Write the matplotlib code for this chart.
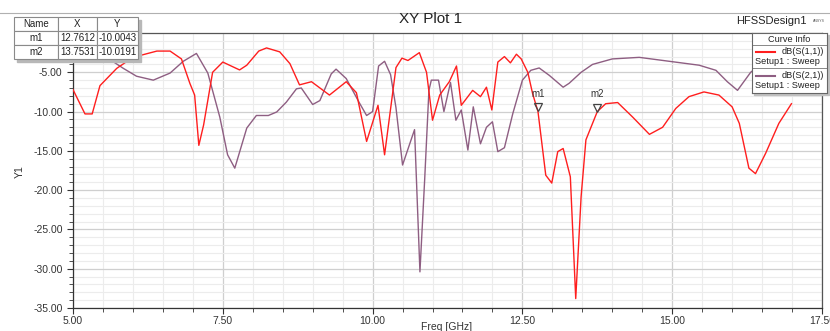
import matplotlib
matplotlib.use('Agg')
import matplotlib.pyplot as plt
from matplotlib.patches import Rectangle
from matplotlib.transforms import offset_copy

plt.rcParams['font.family'] = ['Liberation Sans', 'DejaVu Sans']

# dB(S(1,1))
s11_freq = [5.00, 5.20, 5.32, 5.45, 5.73, 6.00, 6.40, 6.62, 6.81, 6.95, 7.03, 7.10,
            7.18, 7.33, 7.50, 7.78, 7.90, 8.10, 8.23, 8.45, 8.62, 8.78, 8.98, 9.28,
            9.56, 9.73, 9.90, 10.09, 10.20, 10.39, 10.49, 10.59, 10.78, 10.90, 11.00,
            11.12, 11.28, 11.40, 11.48, 11.67, 11.80, 11.90, 11.99, 12.09, 12.20,
            12.30, 12.40, 12.48, 12.59, 12.67, 12.76, 12.89, 12.99, 13.09, 13.18,
            13.30, 13.39, 13.48, 13.56, 13.75, 13.89, 14.09, 14.34, 14.62, 14.84,
            15.06, 15.28, 15.53, 15.78, 16.00, 16.12, 16.28, 16.39, 16.56, 16.78, 16.99]
s11_db = [-7.2, -10.3, -10.3, -6.7, -4.5, -3.1, -2.3, -2.3, -3.3, -6.4, -7.9, -14.3,
          -11.7, -5.0, -3.7, -4.7, -4.1, -2.3, -1.9, -2.4, -3.9, -6.6, -6.2, -7.9,
          -6.2, -7.6, -13.8, -9.2, -15.5, -4.4, -3.2, -3.5, -2.5, -5.0, -11.1,
          -7.9, -6.2, -4.2, -9.2, -7.3, -8.1, -6.9, -9.8, -3.7, -3.0,
          -3.8, -2.7, -3.3, -5.0, -7.7, -10.0, -18.1, -19.1, -15.1, -14.7,
          -18.3, -33.8, -20.8, -13.6, -10.0, -9.0, -8.85, -10.7, -12.9, -12.0,
          -9.6, -8.1, -7.5, -7.9, -9.4, -11.5, -17.2, -17.9, -15.3, -11.5, -9.0]

# dB(S(2,1))
s21_freq = [5.00, 5.30, 5.62, 5.84, 6.06, 6.34, 6.62, 6.84, 7.06, 7.25, 7.45, 7.58,
            7.70, 7.90, 8.06, 8.26, 8.40, 8.56, 8.73, 8.81, 9.00, 9.12, 9.31, 9.39,
            9.56, 9.78, 9.90, 10.00, 10.10, 10.20, 10.30, 10.39, 10.50, 10.70, 10.79,
            10.87, 10.94, 10.98, 11.10, 11.19, 11.30, 11.39, 11.48, 11.59, 11.68,
            11.80, 11.90, 12.00, 12.09, 12.20, 12.34, 12.50, 12.64, 12.78, 12.95,
            13.18, 13.28, 13.48, 13.67, 14.00, 14.45, 14.90, 15.45, 15.73, 15.92,
            16.09, 16.31, 16.50, 17.00]
s21_db = [-1.6, -2.5, -3.4, -4.5, -5.5, -6.0, -5.1, -3.6, -2.6, -5.1, -10.7, -15.5,
          -17.2, -12.1, -10.5, -10.5, -10.05, -8.8, -7.1, -7.0, -9.1, -8.6, -5.2, -4.6,
          -5.8, -8.9, -10.5, -10.0, -4.2, -3.6, -5.3, -9.5, -16.8, -12.3, -30.4,
          -18.5, -7.3, -6.0, -6.0, -10.0, -6.3, -11.1, -9.8, -14.9, -9.4,
          -14.1, -12.0, -11.3, -15.1, -14.6, -10.25, -6.0, -4.75, -4.45, -5.4,
          -6.9, -6.4, -5.0, -4.0, -3.3, -3.1, -3.55, -4.1, -4.75, -6.2,
          -7.3, -5.0, -3.8, -3.0]

marker_names = ['m1', 'm2']
marker_x = [12.7612, 13.7531]
marker_y = [-10.0043, -10.0191]

RED = '#ff1e1e'
PURPLE = '#8e5e82'
W, H = 830, 331

fig = plt.figure(figsize=(W / 100, H / 100), dpi=100)
ax = fig.add_axes([73 / W, 1 - 308 / H, (822 - 73) / W, (308 - 33) / H])

ax.plot(s11_freq, s11_db, color=RED, lw=1.0, zorder=3)
ax.plot(s21_freq, s21_db, color=PURPLE, lw=1.0, zorder=2)

# markers: hollow down-triangles sitting on the curve
tri = offset_copy(ax.transData, fig=fig, y=3, units='points')
lab = offset_copy(ax.transData, fig=fig, y=9, units='points')
for n, mx, my in zip(marker_names, marker_x, marker_y):
    ax.plot(mx, my, marker='v', ms=6, mfc='none', mec='#444444', mew=0.9,
            transform=tri, zorder=4)
    ax.text(mx, my, n, transform=lab, ha='center', va='bottom',
            fontsize=7, color='#333333', zorder=4)

ax.set_xlim(5, 17.5)
ax.set_ylim(-35, 0)
ax.set_xticks([5, 7.5, 10, 12.5, 15, 17.5])
ax.set_xticks([5 + 0.5 * i for i in range(26)], minor=True)
ax.set_yticks([-35, -30, -25, -20, -15, -10, -5])
ax.set_yticks(list(range(-35, 1)), minor=True)
ax.xaxis.set_major_formatter(matplotlib.ticker.FormatStrFormatter('%.2f'))
ax.yaxis.set_major_formatter(matplotlib.ticker.FormatStrFormatter('%.2f'))
ax.tick_params(which='both', labelsize=7.5, colors='#333333', direction='out')
ax.tick_params(which='major', length=4, width=0.8)
ax.tick_params(which='minor', length=3, width=0.6)
ax.tick_params(axis='x', pad=2)
ax.grid(which='minor', color='#ececec', lw=0.8)
ax.grid(which='major', color='#cfcfcf', lw=0.9)
ax.set_axisbelow(True)
for s in ax.spines.values():
    s.set_color('#555555')
    s.set_linewidth(0.9)
ax.spines['left'].set_color('#333333')
ax.spines['bottom'].set_color('#333333')

fig.text(20 / W, 1 - 172 / H, 'Y1', rotation=90, ha='center', va='center',
         fontsize=7.5, color='#333333')
fig.text(447 / W, 1 - 327 / H, 'Freq [GHz]', ha='center', va='center',
         fontsize=7.5, color='#333333')
fig.text(431 / W, 1 - 19 / H, 'XY Plot 1', ha='center', va='center',
         fontsize=11, color='#222222')
fig.text(771 / W, 1 - 21 / H, 'HFSSDesign1', ha='center', va='center',
         fontsize=8, color='#222222')
fig.text(819 / W, 1 - 21 / H, 'ANSYS', ha='center', va='center',
         fontsize=2.5, color='#555555')
fig.add_artist(plt.Line2D([0, 1], [1 - 13 / H, 1 - 13 / H], color='#b0b0b0',
                          lw=0.8, transform=fig.transFigure))

# marker table, top left
tx0, ty0, tx1, ty1 = 14, 17, 138, 59
fig.add_artist(Rectangle(((tx0 + 3) / W, 1 - (ty1 + 3) / H), (tx1 - tx0) / W,
                         (ty1 - ty0) / H, transform=fig.transFigure,
                         color='#b8b8b8', zorder=4))
tax = fig.add_axes([tx0 / W, 1 - ty1 / H, (tx1 - tx0) / W, (ty1 - ty0) / H], zorder=5)
tax.axis('off')
rows = [['Name', 'X', 'Y']] + [[n, '%.4f' % x, '%.4f' % y]
                               for n, x, y in zip(marker_names, marker_x, marker_y)]
tbl = tax.table(cellText=rows, bbox=[0, 0, 1, 1], cellLoc='center',
                colWidths=[44, 39, 41])
tbl.auto_set_font_size(False)
tbl.set_fontsize(7)
for (r, c), cell in tbl.get_celld().items():
    cell.set_edgecolor('#8a8a8a')
    cell.set_linewidth(0.8)
    cell.set_facecolor('white')
    cell.get_text().set_color('#222222')

# curve info box, top right
lx0, ly0, lx1, ly1 = 752, 33, 827, 93
fig.add_artist(Rectangle(((lx0 + 2) / W, 1 - (ly1 + 2) / H), (lx1 - lx0) / W,
                         (ly1 - ly0) / H, transform=fig.transFigure,
                         color='#c0c0c0', zorder=4))
lax = fig.add_axes([lx0 / W, 1 - ly1 / H, (lx1 - lx0) / W, (ly1 - ly0) / H], zorder=5)
lax.set_xlim(0, 1)
lax.set_ylim(0, 1)
lax.set_xticks([])
lax.set_yticks([])
for s in lax.spines.values():
    s.set_color('#666666')
    s.set_linewidth(0.8)
fs = 6.6
lax.text(0.5, 0.9, 'Curve Info', ha='center', va='center', fontsize=fs, color='#222222')
lax.axhline(0.8, color='#888888', lw=0.7)
lax.axhline(0.42, color='#888888', lw=0.7)
lax.plot([0.05, 0.30], [0.68, 0.68], color=RED, lw=1.5)
lax.text(0.96, 0.69, 'dB(S(1,1))', ha='right', va='center', fontsize=fs, color='#222222')
lax.text(0.04, 0.53, 'Setup1 : Sweep', ha='left', va='center', fontsize=fs, color='#222222')
lax.plot([0.05, 0.30], [0.29, 0.29], color=PURPLE, lw=1.5)
lax.text(0.96, 0.30, 'dB(S(2,1))', ha='right', va='center', fontsize=fs, color='#222222')
lax.text(0.04, 0.13, 'Setup1 : Sweep', ha='left', va='center', fontsize=fs, color='#222222')

fig.savefig('out.png', dpi=100)
